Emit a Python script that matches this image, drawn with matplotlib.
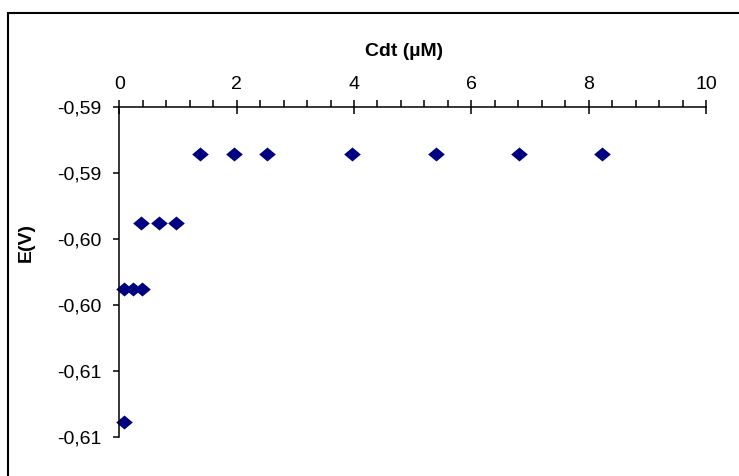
import matplotlib
matplotlib.use("Agg")
import matplotlib.pyplot as plt
from matplotlib.patches import Rectangle
from matplotlib.ticker import MultipleLocator

plt.rcParams['font.family'] = ['Liberation Sans', 'DejaVu Sans']

# concentration (uM) and potential (V)
cdt = [0.08, 0.23, 0.38, 0.37, 0.67, 0.96, 1.38, 1.96, 2.52, 3.96, 5.39, 6.81, 8.23, 0.08]
e_v = [-0.5988, -0.5988, -0.5988, -0.5938, -0.5938, -0.5938,
       -0.5886, -0.5886, -0.5886, -0.5886, -0.5886, -0.5886, -0.5886, -0.6089]

y_ticks = [-0.585, -0.590, -0.595, -0.600, -0.605, -0.610]
y_tick_labels = ["-0,59", "-0,59", "-0,60", "-0,60", "-0,61", "-0,61"]
x_ticks = [0, 2, 4, 6, 8, 10]

W, H = 739, 476
fig = plt.figure(figsize=(W / 100, H / 100), dpi=100)
ax = fig.add_axes([119.3 / W, 1 - 437 / H, (706 - 119.3) / W, (437 - 106.7) / H])

diamond = [(-1, 0), (0, 0.84), (1, 0), (0, -0.84), (-1, 0)]
ax.plot(cdt, e_v, linestyle='', marker=diamond, markersize=12,
        color='#000080', markeredgewidth=0, clip_on=False)

ax.set_xlim(0, 10)
ax.set_ylim(-0.610, -0.585)

ax.xaxis.tick_top()
ax.set_xticks(x_ticks)
ax.set_xticklabels([str(v) for v in x_ticks])
ax.xaxis.set_minor_locator(MultipleLocator(0.4))
ax.tick_params(axis='x', which='major', direction='inout', length=9.5, width=1.1,
               labelsize=14, pad=5)
ax.tick_params(axis='x', which='minor', direction='out', length=5, width=1.1)

ax.set_yticks(y_ticks)
ax.set_yticklabels(y_tick_labels)
ax.tick_params(axis='y', which='major', direction='out', length=4, width=1.1,
               labelsize=14, pad=9)

for side in ['right', 'bottom']:
    ax.spines[side].set_visible(False)
for side in ['top', 'left']:
    ax.spines[side].set_linewidth(1.1)

fig.text(404 / W, 1 - 52 / H, "Cdt (µM)", ha='center', va='center',
         fontsize=14, fontweight='bold')
fig.text(26 / W, 1 - 243 / H, "E(V)", ha='center', va='center',
         fontsize=14, fontweight='bold', rotation=90)

# chart border, cut off on the right and bottom in the original
fig.add_artist(Rectangle((8 / W, -0.1), 1.2, 1.1 - 13 / H, transform=fig.transFigure,
                         fill=False, linewidth=1.5, edgecolor='black'))

fig.savefig("out.png", dpi=100)
